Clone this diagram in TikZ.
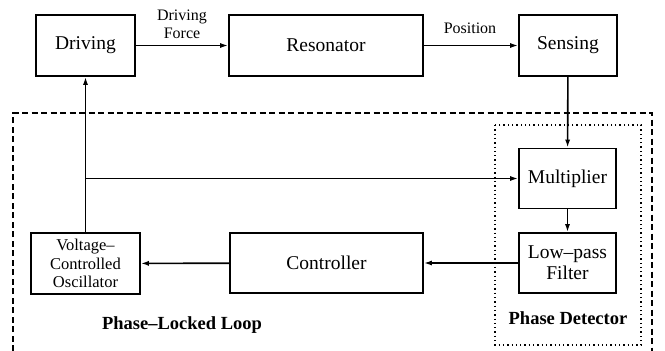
\documentclass[tikz,border=0pt]{standalone}
\usepackage{fontspec}
\setmainfont{Liberation Serif}
\usetikzlibrary{arrows.meta}
\tikzset{
  blk/.style={draw, line width=1.6pt, align=center, inner sep=1pt, font=\fontsize{19.5}{21}\selectfont},
  arr/.style={line width=1.6pt, -{Latex[length=8pt,width=5pt]}},
  lbl/.style={align=center, inner sep=0pt, font=\fontsize{16}{18}\selectfont},
  blbl/.style={inner sep=0pt, font=\fontsize{18.5}{20}\selectfont\bfseries},
}
\begin{document}
\begin{tikzpicture}[x=1pt,y=-1pt]
\useasboundingbox (0,0) rectangle (665,351);
% frames
\draw[line width=1.8pt, dash pattern=on 6pt off 3.5pt] (13,351) -- (13,113) -- (652,113) -- (652,351);
\draw[line width=1.3pt, dash pattern=on 1.3pt off 3pt] (495,125) rectangle (641,345);
% blocks
\node[blk, minimum width=99pt, minimum height=61pt] (drv) at (85.5,45.5) {Driving};
\node[blk, minimum width=194pt, minimum height=61pt] (res) at (326,45.5) {Resonator};
\node[blk, minimum width=98pt, minimum height=61pt] (sen) at (568,45.5) {Sensing};
\node[blk, minimum width=97pt, minimum height=60pt] (mul) at (567.5,178.5) {Multiplier};
\node[blk, minimum width=97pt, minimum height=60pt] (lpf) at (567.5,263) {Low–pass\\Filter};
\node[blk, minimum width=193pt, minimum height=60pt] (ctl) at (326.5,263) {Controller};
\node[blk, minimum width=109pt, minimum height=61pt, font=\fontsize{16.5}{18.5}\selectfont] (vco) at (85.5,263.5) {Voltage–\\Controlled\\Oscillator};
% connectors
\draw[arr] (drv) -- (res);
\draw[arr] (res) -- (sen);
\draw[arr] (sen) -- (mul);
\draw[arr] (mul) -- (lpf);
\draw[arr] (lpf) -- (ctl);
\draw[arr] (ctl) -- (vco);
\draw[arr] (vco.north) -- (drv.south);
\coordinate (br) at (vco.north |- mul.west);
\draw[arr] (br) -- (mul.west);
% labels
\node[lbl] (df) at (182,24) {Driving\\Force};
\node[lbl] (pos) at (470,28) {Position};
\node[blbl] (pll) at (182,325) {Phase–Locked Loop};
\node[blbl] (pd) at (568,318) {Phase Detector};
\end{tikzpicture}
\end{document}
